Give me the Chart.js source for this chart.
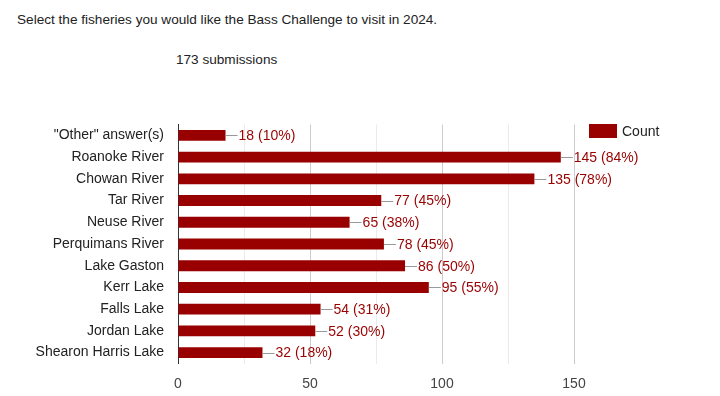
<!DOCTYPE html>
<html>
<head>
<meta charset="utf-8">
<script src="https://cdn.jsdelivr.net/npm/chart.js@4/dist/chart.umd.min.js"></script>
<style>
  html, body { margin: 0; padding: 0; background: #fff; }
  #wrap { position: relative; width: 720px; height: 396px; font-family: "Liberation Sans", Arial, sans-serif; }
  #question { position: absolute; left: 17px; top: 12px; font-size: 13.6px; color: #222; white-space: nowrap; }
  #count { position: absolute; left: 176px; top: 52px; font-size: 13.6px; color: #222; white-space: nowrap; }
  canvas { position: absolute; left: 0; top: 0; }
</style>
</head>
<body>
<div id="wrap">
  <div id="question">Select the fisheries you would like the Bass Challenge to visit in 2024.</div>
  <div id="count">173 submissions</div>
  <canvas id="chart" width="720" height="396"></canvas>
</div>
<script>
const fisheries = [
  '"Other" answer(s)', "Roanoke River", "Chowan River", "Tar River", "Neuse River",
  "Perquimans River", "Lake Gaston", "Kerr Lake", "Falls Lake", "Jordan Lake", "Shearon Harris Lake"
];
const counts = [18, 145, 135, 77, 65, 78, 86, 95, 54, 52, 32];
const percents = [10, 84, 78, 45, 38, 45, 50, 55, 31, 30, 18];
const xTicks = [0, 50, 100, 150];

const barColor = "#990000";
const font = "Liberation Sans";

// value labels with a short grey leader line
const valueLabels = {
  id: "valueLabels",
  afterDatasetsDraw(chart) {
    const c = chart.ctx;
    const meta = chart.getDatasetMeta(0);
    c.save();
    c.font = "14px '" + font + "'";
    c.textBaseline = "middle";
    c.textAlign = "left";
    meta.data.forEach((bar, i) => {
      c.strokeStyle = "#999";
      c.lineWidth = 1;
      c.beginPath();
      c.moveTo(bar.x, Math.round(bar.y) + 0.5);
      c.lineTo(bar.x + 12, Math.round(bar.y) + 0.5);
      c.stroke();
      c.fillStyle = barColor;
      c.fillText(counts[i] + " (" + percents[i] + "%)", bar.x + 13, bar.y + 1);
    });
    c.restore();
  }
};

// legend in the top right corner
const cornerLegend = {
  id: "cornerLegend",
  afterDraw(chart) {
    const c = chart.ctx;
    const ds = chart.data.datasets[0];
    c.save();
    c.fillStyle = ds.backgroundColor;
    c.fillRect(589, 124, 28, 14);
    c.fillStyle = "#222";
    c.font = "14px '" + font + "'";
    c.textBaseline = "middle";
    c.fillText(ds.label, 622, 132);
    c.restore();
  }
};

new Chart(document.getElementById("chart"), {
  type: "bar",
  data: {
    labels: fisheries,
    datasets: [{
      label: "Count",
      data: counts,
      backgroundColor: barColor,
      barPercentage: 0.5,
      categoryPercentage: 1
    }]
  },
  options: {
    indexAxis: "y",
    responsive: false,
    animation: false,
    layout: { padding: { top: 124.5, right: 146, left: 0, bottom: 0 } },
    plugins: { legend: { display: false }, tooltip: { enabled: false } },
    scales: {
      x: {
        min: 0,
        max: 150,
        afterFit: (s) => { s.height = 32.5; },
        afterBuildTicks: (s) => {
          s.ticks = [0, 25, 50, 75, 100, 125, 150].map(v => ({ value: v }));
        },
        border: { display: false },
        grid: {
          drawTicks: false,
          color: (ctx) => ctx.tick && ctx.tick.value === 0 ? "rgba(0,0,0,0)" :
            (xTicks.includes(ctx.tick && ctx.tick.value) ? "#cccccc" : "#ebebeb")
        },
        ticks: {
          padding: 12,
          color: "#444",
          font: { family: font, size: 14 },
          callback: (v) => xTicks.includes(v) ? v : ""
        }
      },
      y: {
        afterFit: (s) => { s.width = 178; },
        border: { display: true, color: "#333", width: 1 },
        grid: { display: false, drawTicks: false },
        ticks: {
          padding: 14,
          color: "#222",
          font: { family: font, size: 14 },
          autoSkip: false
        }
      }
    }
  },
  plugins: [valueLabels, cornerLegend]
});
</script>
</body>
</html>
